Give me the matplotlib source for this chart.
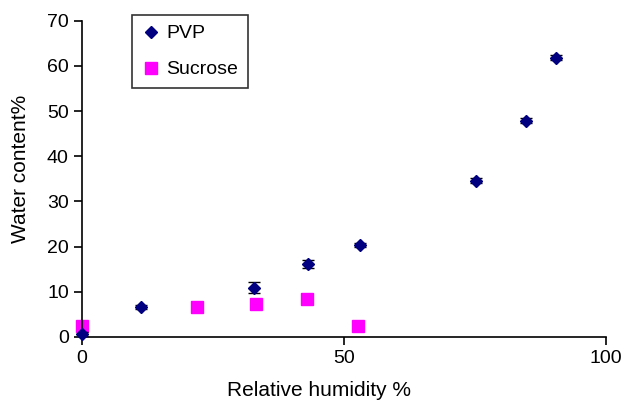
import matplotlib.pyplot as plt
from matplotlib.lines import Line2D

plt.rcParams['font.family'] = ['Liberation Sans', 'DejaVu Sans']

# PVP sorption data
pvp_rh = [0, 11.3, 32.9, 43.2, 53.1, 75.2, 84.7, 90.4]
pvp_water = [0.7, 6.6, 10.9, 16.1, 20.4, 34.6, 47.9, 61.8]
pvp_err = [0.4, 0.5, 1.2, 0.9, 0.4, 0.5, 0.5, 0.6]

# Sucrose sorption data
suc_rh = [0, 22.0, 33.2, 42.9, 52.7]
suc_water = [2.5, 6.6, 7.4, 8.5, 2.5]

x_ticks = [0, 50, 100]
y_ticks = [0, 10, 20, 30, 40, 50, 60, 70]

navy = '#000080'
magenta = '#FF00FF'

fig = plt.figure(figsize=(6.24, 4.03), dpi=100)
ax = fig.add_axes([0.1314, 0.1638, 0.8397, 0.7848])

ax.plot(suc_rh, suc_water, 's', color=magenta, markersize=8,
        zorder=2, clip_on=False)
eb = ax.errorbar(pvp_rh, pvp_water, yerr=pvp_err, fmt='D', color=navy,
                 markersize=6, ecolor='black', elinewidth=1, capsize=4,
                 zorder=3)
eb.lines[0].set_clip_on(False)

ax.set_xlim(0, 100)
ax.set_ylim(0, 70)
ax.set_xticks(x_ticks)
ax.set_yticks(y_ticks)
ax.spines['top'].set_visible(False)
ax.spines['right'].set_visible(False)
ax.tick_params(direction='out', length=6, width=1.2, labelsize=14)
ax.spines['left'].set_linewidth(1.2)
ax.spines['bottom'].set_linewidth(1.2)

ax.set_xlabel('Relative humidity %', fontsize=15, labelpad=10)
ax.set_ylabel('Water content%', fontsize=15, labelpad=12)
ax.xaxis.label.set_x(0.452)
ax.yaxis.label.set_y(0.53)

handles = [Line2D([], [], marker='D', color=navy, linestyle='none', markersize=6),
           Line2D([], [], marker='s', color=magenta, linestyle='none', markersize=8)]
leg = ax.legend(handles, ['PVP', 'Sucrose'], loc='upper left',
                bbox_to_anchor=(132 / 624, 1 - 15 / 403),
                bbox_transform=fig.transFigure, frameon=True, fancybox=False,
                edgecolor='black', fontsize=14, handletextpad=0.25,
                labelspacing=0.95, borderpad=0.5, handlelength=1.0,
                borderaxespad=0)
leg.get_frame().set_linewidth(1.2)

fig.savefig('out.png', dpi=100)
